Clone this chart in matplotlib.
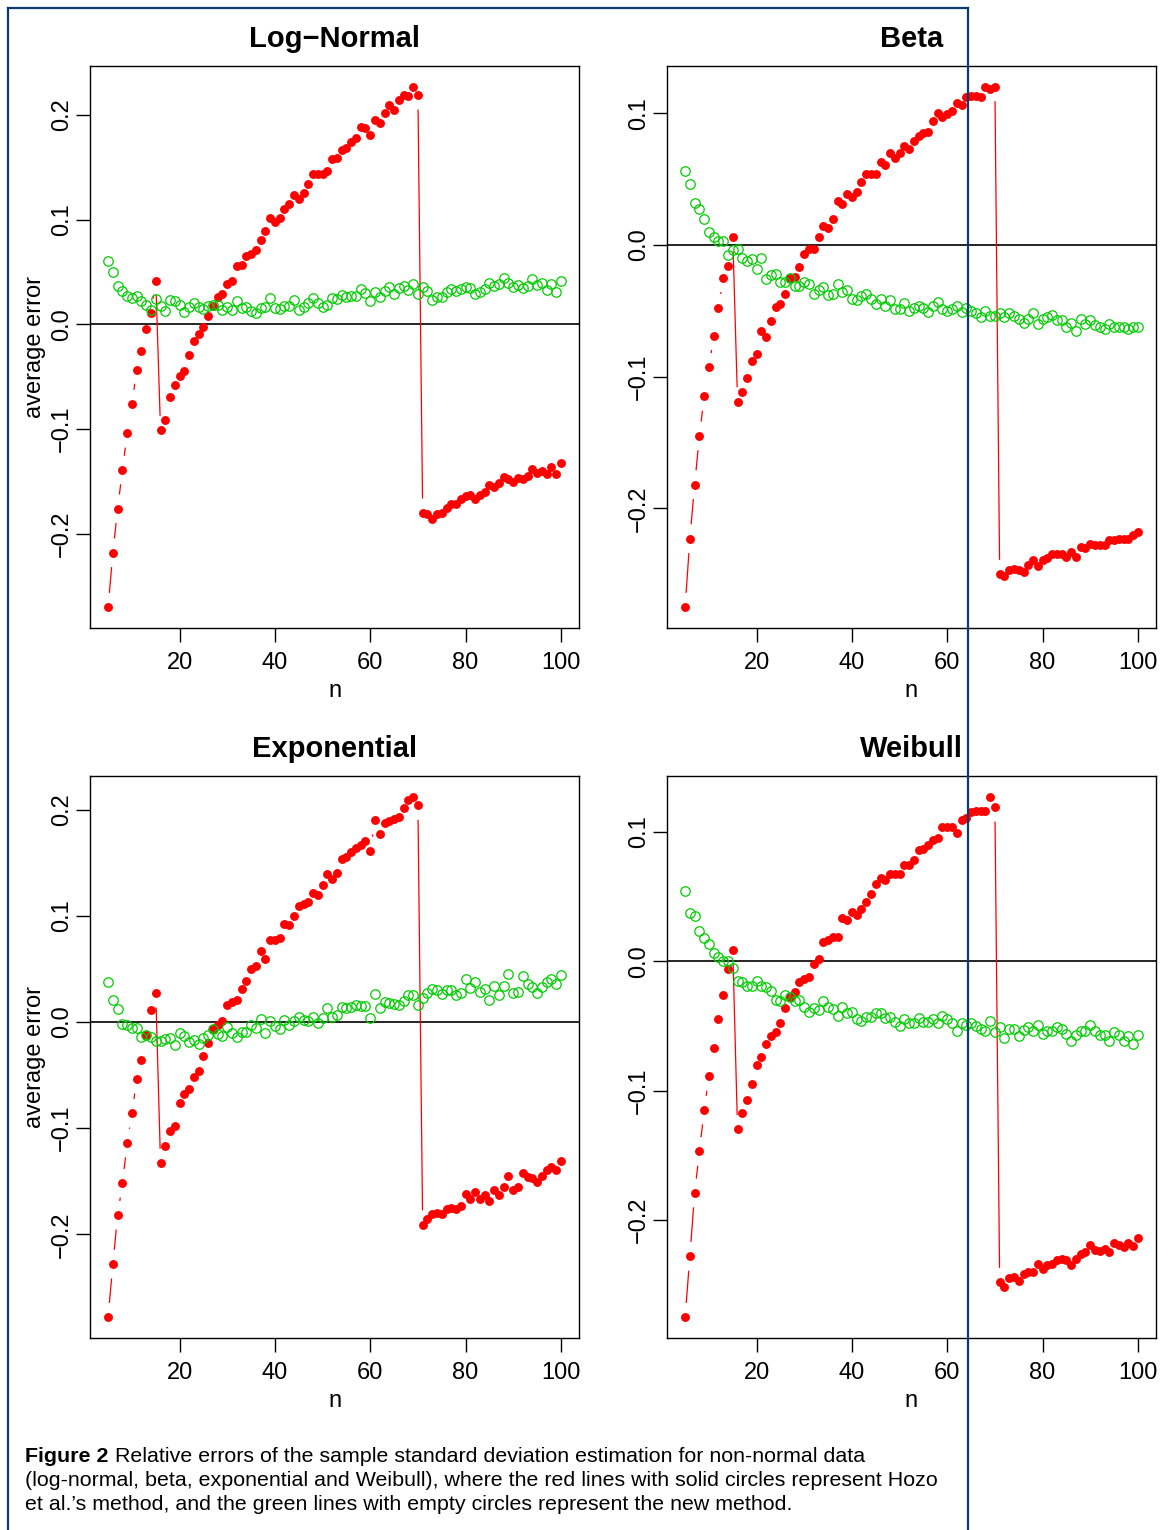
import numpy as np
import matplotlib.pyplot as plt
from matplotlib.lines import Line2D
from matplotlib.ticker import MultipleLocator, FuncFormatter

# sample sizes
n = np.arange(5, 101)

# Hozo et al.'s method (red, solid circles)
lognormal_hozo = [
    -0.270, -0.218, -0.176, -0.139, -0.104, -0.076, -0.043, -0.025, -0.004, 0.011,
    0.042, -0.101, -0.091, -0.069, -0.058, -0.049, -0.044, -0.029, -0.016, -0.009,
    -0.002, 0.008, 0.018, 0.026, 0.029, 0.039, 0.042, 0.056, 0.057, 0.065,
    0.067, 0.071, 0.081, 0.089, 0.102, 0.098, 0.102, 0.110, 0.115, 0.124,
    0.120, 0.126, 0.134, 0.144, 0.144, 0.144, 0.147, 0.158, 0.159, 0.167,
    0.169, 0.174, 0.178, 0.189, 0.188, 0.181, 0.195, 0.192, 0.202, 0.210,
    0.205, 0.214, 0.219, 0.218, 0.227, 0.219, -0.180, -0.181, -0.186, -0.181,
    -0.180, -0.175, -0.171, -0.171, -0.167, -0.164, -0.163, -0.167, -0.163, -0.160,
    -0.153, -0.155, -0.151, -0.146, -0.148, -0.150, -0.147, -0.148, -0.145, -0.138,
    -0.142, -0.140, -0.143, -0.136, -0.143, -0.132]
beta_hozo = [
    -0.275, -0.223, -0.182, -0.145, -0.115, -0.093, -0.069, -0.048, -0.025, -0.016,
    0.006, -0.119, -0.112, -0.101, -0.088, -0.083, -0.065, -0.070, -0.058, -0.047,
    -0.045, -0.037, -0.025, -0.024, -0.017, -0.007, -0.003, -0.003, 0.006, 0.014,
    0.013, 0.020, 0.033, 0.031, 0.039, 0.036, 0.040, 0.048, 0.054, 0.054,
    0.054, 0.063, 0.061, 0.070, 0.066, 0.070, 0.075, 0.073, 0.079, 0.083,
    0.085, 0.086, 0.094, 0.100, 0.097, 0.099, 0.102, 0.108, 0.106, 0.112,
    0.113, 0.113, 0.112, 0.120, 0.118, 0.120, -0.250, -0.251, -0.247, -0.246,
    -0.247, -0.248, -0.243, -0.239, -0.244, -0.239, -0.238, -0.235, -0.235, -0.235,
    -0.237, -0.233, -0.237, -0.229, -0.230, -0.227, -0.228, -0.228, -0.228, -0.224,
    -0.224, -0.223, -0.223, -0.223, -0.220, -0.218]
exponential_hozo = [
    -0.278, -0.228, -0.182, -0.152, -0.114, -0.086, -0.054, -0.036, -0.012, 0.011,
    0.027, -0.133, -0.117, -0.103, -0.098, -0.076, -0.068, -0.063, -0.052, -0.046,
    -0.032, -0.020, -0.007, -0.003, 0.001, 0.016, 0.019, 0.021, 0.031, 0.039,
    0.050, 0.053, 0.067, 0.059, 0.077, 0.077, 0.079, 0.092, 0.091, 0.100,
    0.109, 0.111, 0.113, 0.121, 0.120, 0.129, 0.139, 0.135, 0.140, 0.153,
    0.155, 0.160, 0.164, 0.167, 0.170, 0.161, 0.190, 0.177, 0.187, 0.189,
    0.191, 0.193, 0.201, 0.209, 0.212, 0.204, -0.191, -0.186, -0.181, -0.180,
    -0.181, -0.176, -0.175, -0.176, -0.173, -0.162, -0.167, -0.160, -0.167, -0.163,
    -0.169, -0.158, -0.163, -0.155, -0.145, -0.158, -0.155, -0.142, -0.146, -0.147,
    -0.151, -0.145, -0.139, -0.137, -0.139, -0.131]
weibull_hozo = [
    -0.275, -0.228, -0.179, -0.147, -0.115, -0.089, -0.067, -0.045, -0.026, -0.006,
    0.009, -0.130, -0.117, -0.107, -0.095, -0.080, -0.074, -0.064, -0.058, -0.055,
    -0.048, -0.036, -0.028, -0.024, -0.016, -0.014, -0.012, -0.002, 0.002, 0.015,
    0.016, 0.019, 0.019, 0.033, 0.032, 0.038, 0.036, 0.040, 0.046, 0.052,
    0.060, 0.064, 0.063, 0.067, 0.067, 0.067, 0.074, 0.074, 0.078, 0.086,
    0.087, 0.090, 0.094, 0.095, 0.104, 0.104, 0.104, 0.099, 0.109, 0.111,
    0.115, 0.116, 0.116, 0.116, 0.127, 0.119, -0.248, -0.252, -0.245, -0.244,
    -0.247, -0.242, -0.240, -0.240, -0.234, -0.238, -0.235, -0.234, -0.231, -0.230,
    -0.231, -0.235, -0.230, -0.226, -0.225, -0.219, -0.223, -0.224, -0.222, -0.225,
    -0.218, -0.219, -0.221, -0.218, -0.220, -0.214]

# new method (green, empty circles)
lognormal_new = [
    0.061, 0.050, 0.037, 0.032, 0.027, 0.025, 0.027, 0.022, 0.019, 0.014,
    0.024, 0.018, 0.013, 0.023, 0.022, 0.019, 0.012, 0.017, 0.021, 0.017,
    0.015, 0.018, 0.019, 0.019, 0.014, 0.017, 0.014, 0.022, 0.016, 0.017,
    0.013, 0.011, 0.016, 0.017, 0.025, 0.016, 0.015, 0.018, 0.018, 0.023,
    0.014, 0.017, 0.021, 0.025, 0.021, 0.017, 0.019, 0.025, 0.024, 0.028,
    0.026, 0.027, 0.027, 0.034, 0.030, 0.022, 0.031, 0.026, 0.032, 0.036,
    0.029, 0.035, 0.037, 0.033, 0.039, 0.029, 0.036, 0.032, 0.023, 0.026,
    0.026, 0.031, 0.034, 0.032, 0.034, 0.036, 0.035, 0.029, 0.031, 0.034,
    0.040, 0.037, 0.039, 0.044, 0.040, 0.036, 0.038, 0.035, 0.037, 0.043,
    0.038, 0.040, 0.033, 0.039, 0.031, 0.042]
beta_new = [
    0.056, 0.046, 0.032, 0.027, 0.020, 0.010, 0.006, 0.003, 0.003, -0.008,
    -0.004, -0.003, -0.010, -0.012, -0.011, -0.018, -0.010, -0.026, -0.023, -0.022,
    -0.028, -0.028, -0.025, -0.031, -0.031, -0.028, -0.030, -0.037, -0.034, -0.032,
    -0.038, -0.037, -0.030, -0.036, -0.034, -0.041, -0.042, -0.039, -0.037, -0.041,
    -0.045, -0.041, -0.046, -0.042, -0.049, -0.049, -0.044, -0.050, -0.048, -0.046,
    -0.048, -0.051, -0.046, -0.043, -0.049, -0.050, -0.049, -0.046, -0.051, -0.048,
    -0.050, -0.052, -0.055, -0.050, -0.054, -0.054, -0.052, -0.055, -0.052, -0.054,
    -0.056, -0.059, -0.056, -0.052, -0.060, -0.056, -0.055, -0.053, -0.057, -0.057,
    -0.062, -0.059, -0.065, -0.056, -0.060, -0.057, -0.061, -0.062, -0.064, -0.060,
    -0.062, -0.062, -0.062, -0.064, -0.062, -0.062]
exponential_new = [
    0.038, 0.021, 0.012, -0.002, -0.003, -0.006, -0.006, -0.014, -0.012, -0.014,
    -0.018, -0.018, -0.016, -0.015, -0.022, -0.010, -0.013, -0.019, -0.017, -0.021,
    -0.015, -0.012, -0.007, -0.011, -0.013, -0.005, -0.010, -0.014, -0.009, -0.009,
    -0.003, -0.006, 0.003, -0.010, 0.001, -0.004, -0.007, 0.002, -0.003, 0.001,
    0.005, 0.002, 0.001, 0.005, -0.001, 0.004, 0.013, 0.005, 0.007, 0.014,
    0.013, 0.014, 0.016, 0.015, 0.015, 0.004, 0.026, 0.013, 0.019, 0.018,
    0.017, 0.016, 0.020, 0.025, 0.025, 0.016, 0.023, 0.027, 0.031, 0.030,
    0.026, 0.030, 0.030, 0.025, 0.027, 0.040, 0.032, 0.038, 0.028, 0.031,
    0.021, 0.034, 0.025, 0.034, 0.045, 0.027, 0.028, 0.043, 0.036, 0.033,
    0.027, 0.033, 0.038, 0.040, 0.036, 0.044]
weibull_new = [
    0.054, 0.037, 0.035, 0.023, 0.018, 0.013, 0.006, 0.003, 0.000, 0.000,
    -0.005, -0.015, -0.016, -0.019, -0.019, -0.015, -0.019, -0.020, -0.023, -0.030,
    -0.031, -0.026, -0.028, -0.031, -0.030, -0.035, -0.039, -0.036, -0.038, -0.031,
    -0.035, -0.037, -0.042, -0.035, -0.040, -0.039, -0.045, -0.046, -0.043, -0.043,
    -0.040, -0.040, -0.044, -0.043, -0.047, -0.050, -0.045, -0.048, -0.048, -0.044,
    -0.047, -0.047, -0.045, -0.048, -0.042, -0.045, -0.048, -0.054, -0.048, -0.049,
    -0.048, -0.050, -0.052, -0.054, -0.046, -0.055, -0.051, -0.059, -0.052, -0.052,
    -0.058, -0.053, -0.051, -0.054, -0.049, -0.056, -0.054, -0.054, -0.051, -0.052,
    -0.056, -0.062, -0.057, -0.054, -0.054, -0.049, -0.054, -0.057, -0.057, -0.062,
    -0.055, -0.057, -0.062, -0.058, -0.064, -0.057]

titles = ['Log\u2212Normal', 'Beta', 'Exponential', 'Weibull']
hozo = [lognormal_hozo, beta_hozo, exponential_hozo, weibull_hozo]
new = [lognormal_new, beta_new, exponential_new, weibull_new]

W, H = 1170, 1530
RED, GREEN = '#ff0000', '#00cd00'
plt.rcParams['font.family'] = ['Liberation Sans', 'DejaVu Sans']

fig = plt.figure(figsize=(W / 100, H / 100), dpi=100)

# plot boxes in pixels: left, top, right, bottom
boxes = [(90, 66, 579, 628), (667, 66, 1156, 628),
         (90, 776, 579, 1338), (667, 776, 1156, 1338)]


def minus_fmt(v, pos):
    return f"{round(v, 1) + 0.0:.1f}".replace('-', '\u2212')


def draw_gapped(ax, x, y, color, gap=15):
    # R's type="b": segments between points, leaving a gap round each point
    pts = ax.transData.transform(np.column_stack([x, y]))
    inv = ax.transData.inverted()
    for p0, p1 in zip(pts[:-1], pts[1:]):
        d = np.hypot(*(p1 - p0))
        if d <= 2 * gap:
            continue
        u = (p1 - p0) / d
        a, b = inv.transform([p0 + u * gap, p1 - u * gap])
        ax.plot([a[0], b[0]], [a[1], b[1]], color=color, lw=0.9, zorder=2)


for i, (l, t, r, b) in enumerate(boxes):
    ax = fig.add_axes([l / W, 1 - b / H, (r - l) / W, (b - t) / H])
    ax.plot(n, hozo[i], 'o', color=RED, ms=6.4, mew=0, zorder=3)
    ax.plot(n, new[i], 'o', mfc='none', mec=GREEN, ms=6.8, mew=0.9, zorder=4)
    ax.margins(0.04)
    ax.set_xlim(ax.get_xlim())
    ax.set_ylim(ax.get_ylim())
    draw_gapped(ax, n, hozo[i], RED)
    draw_gapped(ax, n, new[i], GREEN)
    ax.axhline(0, color='black', lw=1.2, zorder=1)

    ax.xaxis.set_major_locator(MultipleLocator(20))
    ax.yaxis.set_major_locator(MultipleLocator(0.1))
    ax.yaxis.set_major_formatter(FuncFormatter(minus_fmt))
    ax.tick_params(direction='out', length=10, width=1, labelsize=17)
    ax.tick_params(axis='x', pad=7)
    ax.tick_params(axis='y', pad=2, labelrotation=90)
    for lab in ax.get_yticklabels():
        lab.set_va('center')
    for s in ax.spines.values():
        s.set_linewidth(1.0)

    ax.set_title(titles[i], fontsize=21, fontweight='bold', pad=14)
    ax.set_xlabel('n', fontsize=17)
    ax.xaxis.set_label_coords(0.5, -0.093)
    if i % 2 == 0:
        ax.set_ylabel('average error', fontsize=17)
        ax.yaxis.set_label_coords(-0.090, 0.5)

# page frame
frame_color = '#0b3b73'
for xs, ys in [([8, 8], [8, H]), ([968, 968], [8, H]), ([8, 968], [8, 8])]:
    fig.add_artist(Line2D([v / W for v in xs], [1 - v / H for v in ys],
                          transform=fig.transFigure, color=frame_color,
                          lw=1.6, zorder=10))

# caption
renderer = fig.canvas.get_renderer()
caption = ["Relative errors of the sample standard deviation estimation for non-normal data",
           "(log-normal, beta, exponential and Weibull), where the red lines with solid circles represent Hozo",
           "et al.\u2019s method, and the green lines with empty circles represent the new method."]
probe = fig.text(0, 0, caption[1], fontsize=10)
cap_size = 10 * 915 / probe.get_window_extent(renderer).width
probe.remove()

x0 = 25
baselines = [1462, 1486, 1510]
head = fig.text(x0 / W, 1 - baselines[0] / H, 'Figure 2', fontsize=cap_size,
                fontweight='bold', va='baseline')
head_w = head.get_window_extent(renderer).width
fig.text((x0 + head_w + 0.4 * cap_size) / W, 1 - baselines[0] / H, caption[0],
         fontsize=cap_size, va='baseline')
for line, yb in zip(caption[1:], baselines[1:]):
    fig.text(x0 / W, 1 - yb / H, line, fontsize=cap_size, va='baseline')

fig.savefig('out.png', dpi=100, facecolor='white')
plt.close(fig)
